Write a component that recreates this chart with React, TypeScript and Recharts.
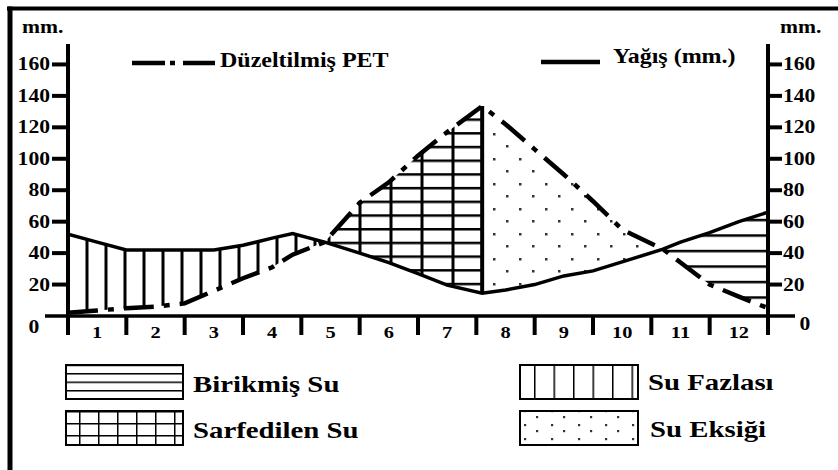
import React from "react";
import { ComposedChart, Area, Line, XAxis, YAxis, ReferenceLine } from "recharts";

// su bilançosu diyagramı
const MONTHS = ["1", "2", "3", "4", "5", "6", "7", "8", "9", "10", "11", "12"];
const MONTH_POS = [0, 0.5, 1, 1.5, 2, 2.5, 3, 3.5, 3.85, 4.4, 5, 5.5, 6, 6.5, 7.1, 7.5, 8, 8.5, 9, 9.5, 10.2, 10.5, 11, 11.5, 12];
const PRECIP = [52, 47, 42, 42, 42, 42, 45, 49.5, 52.5, 47, 40, 34, 27, 19.6, 14.5, 16.5, 20, 25.5, 28.7, 34.4, 42.5, 47, 53, 60, 66];
const PET = [2, 3.5, 5, 6, 8, 16, 24, 31, 39, 47, 72, 85, 102, 117, 133.5, 122, 106, 90, 73, 55, 42.5, 34, 20, 12.3, 5];
const Y_TICKS = [0, 20, 40, 60, 80, 100, 120, 140, 160];
const X_TICKS = [0, 0.5, 1, 1.5, 2, 2.5, 3, 3.5, 4, 4.5, 5, 5.5, 6, 6.5, 7, 7.5, 8, 8.5, 9, 9.5, 10, 10.5, 11, 11.5, 12];

const PHASES = [
  { key: "fazla", name: "Su Fazlası", from: 0, to: 4.4, fill: "url(#pVert)" },
  { key: "sarf", name: "Sarfedilen Su", from: 4.4, to: 7.1, fill: "url(#pGrid)" },
  { key: "eksik", name: "Su Eksiği", from: 7.1, to: 10.2, fill: "url(#pDots)" },
  { key: "birik", name: "Birikmiş Su", from: 10.2, to: 12, fill: "url(#pHoriz)" },
];
const EXHAUST = 7.1; // toprak suyunun bittiği an

const data = MONTH_POS.map((m, i) => ({ m, pre: PRECIP[i], pet: PET[i] }));
const exhaustRow = data[MONTH_POS.indexOf(EXHAUST)];

const FONT = '"Times New Roman", "Liberation Serif", Tinos, "DejaVu Serif", serif';
const SX = 1.2; // yazılar yatayda biraz geniş

function T({ x, y, size, anchor = "start", children }: any) {
  return (
    <text
      transform={`translate(${x},${y}) scale(${SX},1)`}
      textAnchor={anchor}
      fill="#000"
      fontFamily={FONT}
      fontWeight="bold"
      fontSize={size}
    >
      {children}
    </text>
  );
}

const LeftTick = ({ x, y, payload }: any) => {
  if (payload.value === 0) {
    return (
      <g>
        <line x1={x - 23} x2={x} y1={y} y2={y} stroke="#000" strokeWidth={3.5} />
        <T x={x - 34} y={y + 17} size={18} anchor="middle">0</T>
      </g>
    );
  }
  return (
    <g>
      <line x1={x - 16} x2={x} y1={y} y2={y} stroke="#000" strokeWidth={4} />
      <T x={x - 18} y={y + 6} size={18} anchor="end">{payload.value}</T>
    </g>
  );
};

const RightTick = ({ x, y, payload }: any) => {
  if (payload.value === 0) {
    return (
      <g>
        <line x1={x} x2={x + 27} y1={y} y2={y} stroke="#000" strokeWidth={3.5} />
        <T x={x + 37} y={y + 14} size={18} anchor="middle">0</T>
      </g>
    );
  }
  return (
    <g>
      <line x1={x} x2={x + 14} y1={y} y2={y} stroke="#000" strokeWidth={4} />
      <T x={x + 15} y={y + 6} size={18}>{payload.value}</T>
    </g>
  );
};

const MonthTick = ({ x, y, payload }: any) => {
  const v = payload.value;
  if (Number.isInteger(v)) {
    return <line x1={x} x2={x} y1={y} y2={y + 19} stroke="#000" strokeWidth={4} />;
  }
  return <T x={x} y={y + 21.5} size={17} anchor="middle">{MONTHS[Math.floor(v)]}</T>;
};

function Legend() {
  return (
    <svg
      width={838}
      height={470}
      style={{ position: "absolute", left: 0, top: 0, pointerEvents: "none" }}
    >
      <defs>
        <pattern id="lgHoriz" patternUnits="userSpaceOnUse" x={0} y={373} width={10} height={8.5}>
          <rect x={0} y={0} width={10} height={1.5} fill="#000" />
        </pattern>
        <pattern id="lgGrid" patternUnits="userSpaceOnUse" x={79} y={423} width={19} height={12}>
          <rect x={0} y={0} width={1.5} height={12} fill="#000" />
          <rect x={0} y={0} width={19} height={1.5} fill="#000" />
        </pattern>
        <pattern id="lgVert" patternUnits="userSpaceOnUse" x={534} y={0} width={19.5} height={10}>
          <rect x={0} y={0} width={1.5} height={10} fill="#000" />
        </pattern>
        <pattern id="lgDots" patternUnits="userSpaceOnUse" x={532} y={414} width={27} height={14}>
          <rect x={4} y={2} width={2.2} height={2.2} fill="#333" />
          <rect x={19} y={10} width={2.2} height={2.2} fill="#333" />
        </pattern>
      </defs>

      {/* çerçeve */}
      <line x1={7} x2={838} y1={8.5} y2={8.5} stroke="#000" strokeWidth={4} />
      <line x1={10} x2={10} y1={6.5} y2={470} stroke="#000" strokeWidth={5} />

      <T x={22} y={33} size={18}>mm.</T>
      <T x={780} y={33} size={18}>mm.</T>

      <line x1={132} x2={215} y1={63} y2={63} stroke="#000" strokeWidth={4.5} strokeDasharray="33 5 5 8 40" />
      <T x={220} y={67} size={20}>Düzeltilmiş PET</T>
      <line x1={541} x2={600} y1={62} y2={62} stroke="#000" strokeWidth={4.5} />
      <T x={613} y={63} size={20}>Yağış (mm.)</T>

      <rect x={66} y={365} width={117} height={34} fill="url(#lgHoriz)" stroke="#000" strokeWidth={2} />
      <T x={193} y={392} size={24}>Birikmiş Su</T>
      <rect x={66} y={411} width={117} height={34} fill="url(#lgGrid)" stroke="#000" strokeWidth={2} />
      <T x={193} y={438} size={24}>Sarfedilen Su</T>
      <rect x={520} y={365} width={118} height={34} fill="url(#lgVert)" stroke="#000" strokeWidth={2} />
      <T x={648} y={390} size={24}>Su Fazlası</T>
      <rect x={520} y={411} width={118} height={34} fill="url(#lgDots)" stroke="#000" strokeWidth={2} />
      <T x={650} y={437} size={24}>Su Eksiği</T>
    </svg>
  );
}

export default function App() {
  return (
    <div style={{ position: "absolute", left: 0, top: 0, width: 838, height: 470, background: "#fff", fontFamily: FONT }}>
      <ComposedChart
        width={838}
        height={470}
        data={data}
        margin={{ top: 44, right: 20, bottom: 124, left: 18 }}
      >
        <defs>
          <pattern id="pVert" patternUnits="userSpaceOnUse" x={66.5} y={0} width={19} height={10}>
            <rect x={0} y={0} width={3} height={10} fill="#000" />
          </pattern>
          <pattern id="pGrid" patternUnits="userSpaceOnUse" x={358.5} y={145.8} width={31} height={13.7}>
            <rect x={0} y={0} width={3} height={13.7} fill="#000" />
            <rect x={0} y={0} width={31} height={2.5} fill="#000" />
          </pattern>
          <pattern id="pHoriz" patternUnits="userSpaceOnUse" x={0} y={218.8} width={10} height={15.5}>
            <rect x={0} y={0} width={10} height={2.5} fill="#000" />
          </pattern>
          <pattern id="pDots" patternUnits="userSpaceOnUse" x={490} y={130} width={26} height={25}>
            <rect x={3} y={3} width={2.5} height={2.5} fill="#333" />
            <rect x={16} y={15} width={2.5} height={2.5} fill="#333" />
          </pattern>
        </defs>

        <XAxis
          dataKey="m"
          type="number"
          domain={[0, 12]}
          allowDataOverflow
          ticks={X_TICKS}
          interval={0}
          height={30}
          tickSize={0}
          tickMargin={0}
          tickLine={false}
          axisLine={{ stroke: "#000", strokeWidth: 3.5 }}
          tick={<MonthTick />}
        />
        <YAxis
          yAxisId="left"
          type="number"
          domain={[0, 173]}
          allowDataOverflow
          ticks={Y_TICKS}
          interval={0}
          width={50}
          tickSize={0}
          tickMargin={0}
          tickLine={false}
          axisLine={{ stroke: "#000", strokeWidth: 4 }}
          tick={<LeftTick />}
        />
        <YAxis
          yAxisId="right"
          orientation="right"
          type="number"
          domain={[0, 173]}
          allowDataOverflow
          ticks={Y_TICKS}
          interval={0}
          width={50}
          tickSize={0}
          tickMargin={0}
          tickLine={false}
          axisLine={{ stroke: "#000", strokeWidth: 4 }}
          tick={<RightTick />}
        />

        {PHASES.map((ph) => (
          <Area
            key={ph.key}
            yAxisId="left"
            name={ph.name}
            type="linear"
            dataKey={(d: any) =>
              d.m >= ph.from && d.m <= ph.to
                ? [Math.min(d.pre, d.pet), Math.max(d.pre, d.pet)]
                : null
            }
            fill={ph.fill}
            fillOpacity={1}
            stroke="none"
            isAnimationActive={false}
          />
        ))}

        <ReferenceLine
          yAxisId="left"
          segment={[
            { x: EXHAUST, y: exhaustRow.pre },
            { x: EXHAUST, y: exhaustRow.pet },
          ]}
          stroke="#000"
          strokeWidth={4}
        />

        <Line
          yAxisId="left"
          name="Yağış (mm.)"
          type="linear"
          dataKey="pre"
          stroke="#000"
          strokeWidth={3.5}
          dot={false}
          isAnimationActive={false}
        />
        <Line
          yAxisId="left"
          name="Düzeltilmiş PET"
          type="linear"
          dataKey="pet"
          stroke="#000"
          strokeWidth={4.5}
          strokeDasharray="30 10 6 10"
          dot={false}
          isAnimationActive={false}
        />
        {/* sağ eksene bağlı görünmez seri, ekseni ölçeklesin diye */}
        <Line
          yAxisId="right"
          dataKey="pre"
          stroke="none"
          dot={false}
          legendType="none"
          isAnimationActive={false}
        />
      </ComposedChart>
      <Legend />
    </div>
  );
}
